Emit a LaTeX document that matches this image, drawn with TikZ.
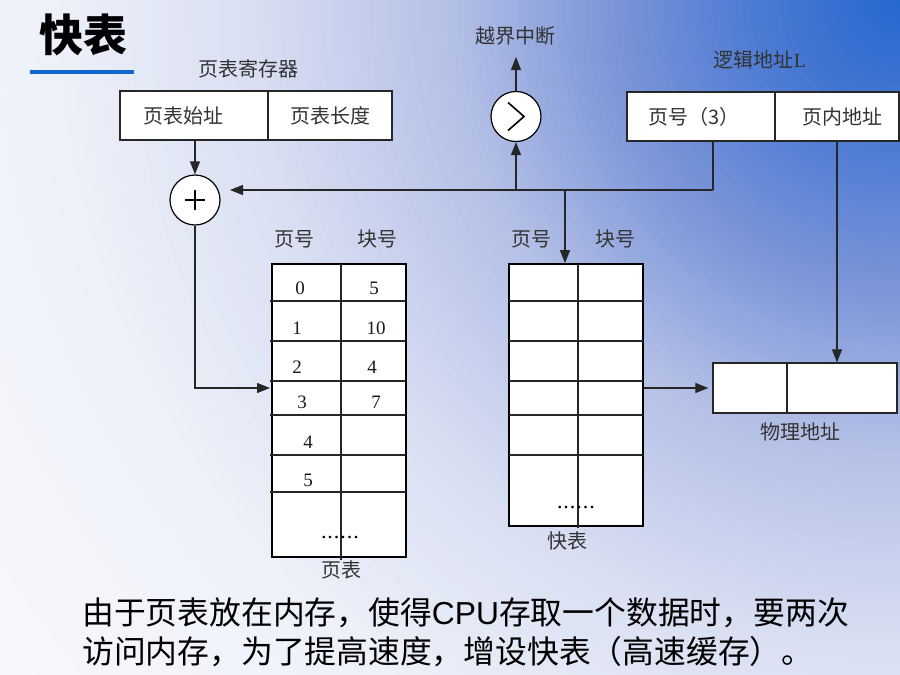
\documentclass[tikz,border=0pt]{standalone}
\usepackage{fontspec}
\setmainfont{Liberation Serif}
\setsansfont{Liberation Sans}
\newfontfamily\cjk{Noto Sans CJK SC}
\usetikzlibrary{arrows.meta}
\definecolor{bga}{HTML}{2468CF}
\definecolor{bgb}{HTML}{4D7BD3}
\definecolor{bgc}{HTML}{7E97D9}
\definecolor{bgd}{HTML}{B3BFE6}
\definecolor{bge}{HTML}{D9DEF2}
\definecolor{bgf}{HTML}{EEF1F9}
\definecolor{bgg}{HTML}{F9FAFD}
\definecolor{ulblue}{HTML}{1166CC}
\begin{document}
\begin{tikzpicture}[x=1pt,y=-1pt,
  lbl/.style={font=\cjk\fontsize{20}{20}\selectfont, text=black!80, inner sep=0pt},
  num/.style={font=\fontsize{19}{19}\selectfont, text=black!90, inner sep=0pt},
  dots/.style={font=\fontsize{22}{22}\selectfont, text=black, inner sep=0pt},
  cell/.style={draw=black!85, line width=1.3pt, fill=white, inner sep=0pt, minimum height=49pt, font=\cjk\fontsize{20}{20}\selectfont, text=black!80},
  circ/.style={circle, draw=black, line width=1.2pt, fill=white, minimum size=50pt, inner sep=0pt},
  arr/.style={-{Triangle[length=13pt,width=10pt]}, line width=1.2pt, draw=black!85},
  ln/.style={line width=1.2pt, draw=black!85},
  tbl/.style={draw=black, line width=1.8pt, fill=white, inner sep=0pt},
  inner/.style={line width=1.3pt, draw=black!85}
]
\useasboundingbox (0,0) rectangle (900,675);
\begin{scope}
  \clip (0,0) rectangle (900,675);
  \fill[bgg] (0,0) rectangle (900,675);
  \foreach \ra/\rb/\ca/\cb in {850/1200/bgf/bgg, 650/850/bge/bgf, 450/650/bgd/bge, 300/450/bgc/bgd, 150/300/bgb/bgc, 0/150/bga/bgb} {
    \foreach \k in {20,19,...,1} {
      \pgfmathsetmacro{\rr}{\ra+(\rb-\ra)*\k/20}
      \pgfmathsetmacro{\pp}{100-\k*5}
      \fill[\ca!\pp!\cb] (900,0) circle[radius=\rr];
    }
  }
\end{scope}

% title
\node[font=\cjk\bfseries\fontsize{44}{44}\selectfont, inner sep=0pt] (title) at (83,35) {快表};
\draw[line width=4pt, draw=ulblue] (30,72) -- (134,72);

% page table register
\node[lbl] (regl) at (248,69) {页表寄存器};
\node[cell, minimum width=148pt] (pts) at (194,115.5) {\hspace*{-22pt}页表始址};
\node[cell, minimum width=124pt] (plen) at (330,115.5) {页表长度};

% adder
\node[circ] (plus) at (195,200) {};
\draw[line width=2pt] ([xshift=-10pt]plus.center) -- ([xshift=10pt]plus.center)
                      ([yshift=-10pt]plus.center) -- ([yshift=10pt]plus.center);

% comparator
\node[circ] (cmp) at (516,116.5) {};
\draw[line width=1.6pt] ([shift={(-8pt,14pt)}]cmp.center) -- ([shift={(8pt,0pt)}]cmp.center) -- ([shift={(-8pt,-14pt)}]cmp.center);
\node[lbl] (ovft) at (515,36) {越界中断};
\coordinate (ovf) at (516,57);

% logical address
\node[lbl] (lal) at (760,60) {逻辑地址{\rmfamily L}};
\node[cell, minimum width=148pt] (lpn) at (701,116.5) {\hspace*{-14pt}页号（3）};
\node[cell, minimum width=124pt] (loff) at (837,116.5) {\hspace*{10pt}页内地址};

% page table
\node[tbl, minimum width=134pt, minimum height=293pt] (pt) at (339,410.5) {};
\foreach \yy in {301,341,381,415,455,492} \draw[inner] (270,\yy) -- (406,\yy);
\draw[inner] (341,264) -- (341,560);
\node[lbl] (pth1) at (294,239) {页号};
\node[lbl] (pth2) at (377,239) {块号};
\node[num] (pa0) at (300,288) {0};
\node[num] (pa1) at (297,328) {1};
\node[num] (pa2) at (297,367) {2};
\node[num] (pa3) at (302,402) {3};
\node[num] (pa4) at (308,442) {4};
\node[num] (pa5) at (308,480) {5};
\node[num] (pb0) at (374,288) {5};
\node[num] (pb1) at (376,328) {10};
\node[num] (pb2) at (372,367) {4};
\node[num] (pb3) at (376,402) {7};
\node[dots] (pdots) at (340,538) {.\kern1pt.\kern1pt.\kern1pt.\kern1pt.\kern1pt.};
\node[lbl] (ptl) at (341,570) {页表};

% fast table
\node[tbl, minimum width=134pt, minimum height=262pt] (tlb) at (576,395) {};
\foreach \yy in {301,341,381,415,455} \draw[inner] (509,\yy) -- (643,\yy);
\draw[inner] (578,264) -- (578,528);
\node[lbl] (tlh1) at (531,239) {页号};
\node[lbl] (tlh2) at (615,239) {块号};
\node[dots] (tdots) at (576,508) {.\kern1pt.\kern1pt.\kern1pt.\kern1pt.\kern1pt.};
\node[lbl] (tll) at (567,541) {快表};

% physical address
\node[cell, minimum width=74pt, minimum height=50pt] (ph1) at (750,388) {};
\node[cell, minimum width=110pt, minimum height=50pt] (ph2) at (842,388) {};
\node[lbl] (phl) at (800,432) {物理地址};

% connectors
\coordinate (j1) at (713,190);
\coordinate (j2) at (565,190);
\coordinate (plusin) at (230,190);
\coordinate (ptin) at (270,388);
\draw[arr] (plus.north |- pts.south) -- (plus.north);
\draw[ln] (j1 |- lpn.south) -- (j1);
\draw[arr] (j1) -- (plusin);
\draw[arr] (cmp.south |- j1) -- (cmp.south);
\draw[arr] (cmp.north) -- (ovf);
\draw[arr] (j2) -- (j2 |- tlb.north);
\draw[arr] (plus.south) |- (ptin);
\draw[arr, shorten >=4pt] (tlb.east |- ph1.west) -- (ph1.west);
\draw[arr] (loff.south) -- (loff.south |- ph1.north);

% bottom text
\node[anchor=west, inner sep=0pt, font=\cjk\fontsize{31.8}{31.8}\selectfont] (t1) at (82,613) {由于页表放在内存，使得{\sffamily CPU}存取一个数据时，要两次};
\node[anchor=west, inner sep=0pt, font=\cjk\fontsize{31.8}{31.8}\selectfont] (t2) at (82,652) {访问内存，为了提高速度，增设快表（高速缓存）。};
\end{tikzpicture}
\end{document}
